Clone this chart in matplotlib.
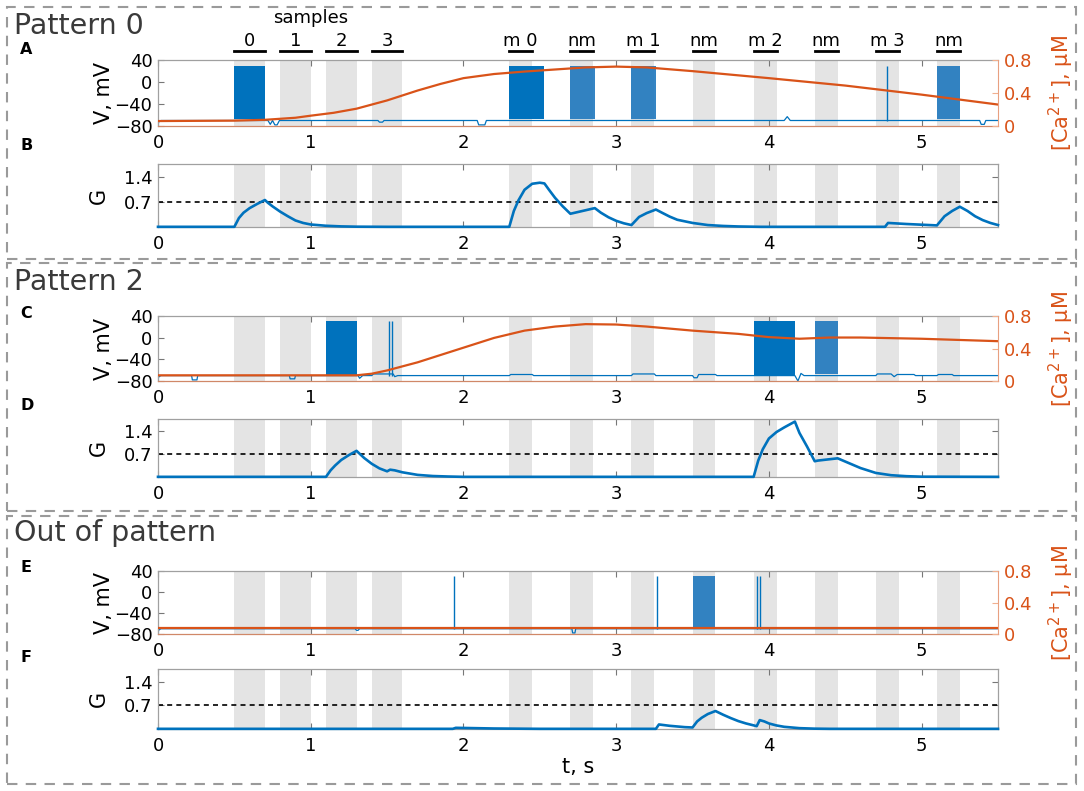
import numpy as np
import matplotlib
matplotlib.use("Agg")
import matplotlib.pyplot as plt
from matplotlib.patches import Rectangle
from matplotlib.transforms import blended_transform_factory

BLUE = '#0072BD'
ORANGE = '#D95319'
SHADE = '#E4E4E4'
SPINE = '#A0A0A0'

# stimulus windows (s)
sample_starts = [0.5, 0.8, 1.1, 1.4]
sample_width = 0.2
sample_labels = ['0', '1', '2', '3']
test_starts = [2.3, 2.7, 3.1, 3.5, 3.9, 4.3, 4.7, 5.1]
test_width = 0.15
test_labels = ['m 0', 'nm', 'm 1', 'nm', 'm 2', 'nm', 'm 3', 'nm']

# ---- Pattern 0 ----
p0_vt = [0.0, 0.006, 0.02, 0.72, 0.735, 0.75, 0.765, 0.78, 0.795, 1.44, 1.45, 1.47, 1.48,
         2.09, 2.10, 2.14, 2.15, 4.10, 4.12, 4.14, 5.38, 5.39, 5.41, 5.42, 5.5]
p0_vv = [-77, -72, -70, -70, -77, -70, -78, -78, -70, -70, -73, -73, -70,
         -70, -78, -78, -70, -70, -63, -70, -70, -77, -77, -70, -70]
p0_dense = [(0.5, 0.7), (2.3, 2.53)]
p0_sparse = [(2.7, 2.86), (3.1, 3.26), (5.1, 5.25)]
p0_spikes = [4.77]
p0_ca_t = [0, 0.5, 0.7, 0.9, 1.0, 1.15, 1.3, 1.5, 1.7, 1.85, 2.0, 2.2, 2.4, 2.6, 2.8, 3.0,
           3.2, 3.5, 4.0, 4.5, 5.0, 5.5]
p0_ca = [0.06, 0.065, 0.075, 0.10, 0.125, 0.16, 0.21, 0.31, 0.43, 0.51, 0.58, 0.63, 0.66,
         0.685, 0.71, 0.72, 0.71, 0.665, 0.58, 0.49, 0.38, 0.26]
p0_g_t = [0, 0.5, 0.53, 0.56, 0.6, 0.65, 0.7, 0.72, 0.75, 0.8, 0.85, 0.9, 0.95, 1.0, 1.1,
          1.2, 1.3, 1.5, 2.3, 2.33, 2.36, 2.4, 2.45, 2.5, 2.53, 2.56, 2.6, 2.65, 2.7, 2.75,
          2.8, 2.86, 2.9, 2.95, 3.0, 3.05, 3.1, 3.15, 3.2, 3.26, 3.3, 3.35, 3.4, 3.5, 3.6,
          3.7, 3.8, 3.95, 4.76, 4.78, 4.9, 5.0, 5.1, 5.15, 5.2, 5.25, 5.3, 5.35, 5.4, 5.45, 5.5]
p0_g = [0, 0, 0.25, 0.4, 0.53, 0.65, 0.76, 0.68, 0.58, 0.43, 0.3, 0.18, 0.11, 0.066, 0.03,
        0.012, 0.004, 0, 0, 0.45, 0.75, 1.05, 1.22, 1.25, 1.23, 1.05, 0.82, 0.58, 0.37, 0.42,
        0.47, 0.53, 0.4, 0.27, 0.17, 0.1, 0.05, 0.28, 0.39, 0.49, 0.4, 0.29, 0.2, 0.11, 0.05,
        0.025, 0.01, 0, 0, 0.11, 0.08, 0.06, 0.04, 0.3, 0.45, 0.57, 0.45, 0.3, 0.19, 0.11, 0.05]

# ---- Pattern 2 ----
p2_vt = [0.0, 0.006, 0.02, 0.22, 0.225, 0.255, 0.26, 0.86, 0.865, 0.895, 0.9, 1.31, 1.32,
         1.34, 1.40, 1.41, 1.5, 1.54, 1.55, 1.57, 2.3, 2.31, 2.45, 2.46, 3.1, 3.11, 3.25, 3.26,
         3.5, 3.51, 3.53, 3.54, 3.65, 3.66, 4.17, 4.19, 4.21, 4.23, 4.7, 4.71, 4.8, 4.82, 4.84,
         4.95, 4.96, 5.1, 5.11, 5.2, 5.21, 5.5]
p2_vv = [-76, -72, -70, -70, -78, -78, -70, -70, -76, -76, -70, -70, -75,
         -70, -70, -67, -67, -67, -72, -70, -70, -68, -68, -70, -70, -67, -67, -70,
         -70, -74, -74, -68, -68, -70, -70, -80, -66, -70, -70, -67, -67, -72, -68,
         -68, -70, -70, -68, -68, -70, -70]
p2_dense = [(1.1, 1.3), (3.9, 4.17)]
p2_sparse = [(4.3, 4.45)]
p2_spikes = [1.51, 1.53]
p2_ca_t = [0, 1.3, 1.4, 1.5, 1.6, 1.7, 1.8, 1.9, 2.0, 2.1, 2.2, 2.4, 2.6, 2.8, 3.0, 3.2,
           3.5, 3.8, 3.9, 4.0, 4.2, 4.4, 4.6, 5.0, 5.5]
p2_ca = [0.07, 0.07, 0.09, 0.13, 0.18, 0.23, 0.29, 0.35, 0.41, 0.47, 0.53, 0.62, 0.67, 0.70,
         0.695, 0.67, 0.62, 0.58, 0.56, 0.54, 0.52, 0.535, 0.535, 0.52, 0.49]
p2_g_t = [0, 1.1, 1.13, 1.16, 1.2, 1.25, 1.3, 1.35, 1.4, 1.45, 1.5, 1.52, 1.55, 1.6, 1.7,
          1.8, 1.9, 2.0, 3.9, 3.93, 3.96, 4.0, 4.05, 4.1, 4.17, 4.2, 4.25, 4.3, 4.32, 4.45,
          4.5, 4.55, 4.6, 4.7, 4.8, 4.9, 5.0, 5.5]
p2_g = [0, 0, 0.2, 0.35, 0.52, 0.67, 0.8, 0.58, 0.4, 0.26, 0.17, 0.22, 0.2, 0.14, 0.06,
        0.025, 0.01, 0, 0, 0.5, 0.85, 1.18, 1.38, 1.52, 1.7, 1.35, 0.93, 0.48, 0.5, 0.57,
        0.47, 0.37, 0.27, 0.12, 0.05, 0.02, 0.005, 0]

# ---- Out of pattern ----
p3_vt = [0.0, 0.006, 0.02, 1.29, 1.30, 1.31, 1.32, 2.71, 2.715, 2.73, 2.735, 5.5]
p3_vv = [-77, -72, -70, -70, -73, -73, -70, -70, -78, -78, -70, -70]
p3_dense = []
p3_sparse = [(3.5, 3.65)]
p3_spikes = [1.94, 3.27, 3.92, 3.94]
p3_ca_t = [0, 5.5]
p3_ca = [0.07, 0.07]
p3_g_t = [0, 1.93, 1.95, 2.2, 2.5, 3.26, 3.28, 3.35, 3.45, 3.5, 3.53, 3.56, 3.6, 3.65, 3.7,
          3.75, 3.8, 3.85, 3.92, 3.94, 3.97, 4.0, 4.05, 4.1, 4.2, 4.3, 4.4, 5.5]
p3_g = [0, 0, 0.03, 0.01, 0, 0, 0.13, 0.09, 0.05, 0.04, 0.22, 0.33, 0.44, 0.53, 0.42, 0.32,
        0.23, 0.16, 0.08, 0.26, 0.22, 0.16, 0.1, 0.06, 0.02, 0.005, 0, 0]

fig = plt.figure(figsize=(10.84, 7.91), dpi=100)
W, H = 1084.0, 791.0


def box(px_top, px_bottom):
    return [158 / W, 1 - px_bottom / H, 840 / W, (px_bottom - px_top) / H]


def shade(ax):
    for s in sample_starts:
        ax.axvspan(s, s + sample_width, color=SHADE, lw=0, zorder=0)
    for s in test_starts:
        ax.axvspan(s, s + test_width, color=SHADE, lw=0, zorder=0)


def style(ax):
    ax.set_xlim(0, 5.5)
    ax.set_xticks([0, 1, 2, 3, 4, 5])
    for sp in ax.spines.values():
        sp.set_color(SPINE)
        sp.set_linewidth(0.9)
    ax.tick_params(axis='x', direction='in', top=True, length=4, color='#777777',
                   labelsize=13, pad=6)
    ax.tick_params(axis='y', direction='in', length=4, color='#777777', labelsize=13, pad=4)


def panel(top_v, bot_v, top_g, bot_g, vt, vv, dense, sparse, spikes, ca_t, ca, g_t, g):
    ax_v = fig.add_axes(box(top_v, bot_v))
    shade(ax_v)
    ax_v.plot(vt, vv, color=BLUE, lw=0.9, zorder=2)
    for s, e in dense:
        ax_v.fill_between([s, e], -68, 30, color=BLUE, lw=0, zorder=2)
    for s, e in sparse:
        ax_v.fill_between([s, e], -67, 30, color='#1F78BE', alpha=0.9, lw=0, zorder=2)
    ax_v.vlines(spikes, -70, 30, color=BLUE, lw=1.0, zorder=2)
    ax_v.set_ylim(-80, 40)
    ax_v.set_yticks([-80, -40, 0, 40])
    style(ax_v)
    ax_v.spines['bottom'].set_color('#D08868')
    ax_v.spines['right'].set_visible(False)
    ax_v.set_ylabel('V, mV', fontsize=15)
    ax_v.yaxis.set_label_coords(-0.052, 0.5)

    ax_c = ax_v.twinx()
    ax_c.plot(ca_t, ca, color=ORANGE, lw=1.6)
    ax_c.set_ylim(0, 0.8)
    ax_c.set_yticks([0, 0.4, 0.8])
    ax_c.set_yticklabels(['0', '0.4', '0.8'])
    for k in ['left', 'top', 'bottom']:
        ax_c.spines[k].set_visible(False)
    ax_c.spines['right'].set_color('#E8A080')
    ax_c.tick_params(axis='y', direction='in', length=4, color='#F0B090',
                     labelcolor=ORANGE, labelsize=13, pad=4)
    ax_c.set_ylabel('[Ca$^{2+}$], μM', color=ORANGE, fontsize=15)
    ax_c.yaxis.set_label_coords(1.058, 0.5)

    ax_g = fig.add_axes(box(top_g, bot_g))
    shade(ax_g)
    ax_g.axhline(0.7, color='k', ls=(0, (3, 2.5)), lw=1.2, zorder=2)
    ax_g.plot(g_t, g, color=BLUE, lw=1.9, zorder=3, clip_on=False)
    ax_g.set_ylim(-0.005, 1.78)
    ax_g.set_yticks([0.7, 1.4])
    style(ax_g)
    ax_g.tick_params(axis='y', right=True)
    ax_g.set_ylabel('G', fontsize=15)
    ax_g.yaxis.set_label_coords(-0.058, 0.5)
    return ax_v, ax_g


ax1v, ax1g = panel(60, 126, 164, 227, p0_vt, p0_vv, p0_dense, p0_sparse, p0_spikes,
                   p0_ca_t, p0_ca, p0_g_t, p0_g)
ax2v, ax2g = panel(316, 381, 419, 477, p2_vt, p2_vv, p2_dense, p2_sparse, p2_spikes,
                   p2_ca_t, p2_ca, p2_g_t, p2_g)
ax3v, ax3g = panel(571, 634, 669, 729, p3_vt, p3_vv, p3_dense, p3_sparse, p3_spikes,
                   p3_ca_t, p3_ca, p3_g_t, p3_g)
ax3g.set_xlabel('t, s', fontsize=15, labelpad=1)

# stimulus labels above top panel
tr = blended_transform_factory(ax1v.transData, ax1v.transAxes)
for s, lab in zip(sample_starts, sample_labels):
    ax1v.plot([s, s + sample_width], [1.13, 1.13], color='k', lw=2, transform=tr, clip_on=False)
    ax1v.text(s + sample_width / 2, 1.15, lab, transform=tr, ha='center', va='bottom', fontsize=13)
for s, lab in zip(test_starts, test_labels):
    ax1v.plot([s, s + test_width], [1.13, 1.13], color='k', lw=2, transform=tr, clip_on=False)
    ax1v.text(s + test_width / 2, 1.15, lab, transform=tr, ha='center', va='bottom', fontsize=13)
ax1v.text(1.0, 1.5, 'samples', transform=tr, ha='center', va='bottom', fontsize=13)

# panel titles and letters
for y, t in [(26, 'Pattern 0'), (282, 'Pattern 2'), (533, 'Out of pattern')]:
    fig.text(14 / W, 1 - y / H, t, fontsize=20.5, color='#3a3a3a', va='center', ha='left')
for y, t in [(50, 'A'), (146, 'B'), (313, 'C'), (405, 'D'), (567, 'E'), (657, 'F')]:
    fig.text(20 / W, 1 - y / H, t, fontsize=11.5, fontweight='bold', va='center', ha='left')

# dashed frames
for top, bot in [(7, 259), (263, 511), (516, 784)]:
    fig.add_artist(Rectangle((7 / W, 1 - bot / H), 1069 / W, (bot - top) / H,
                             transform=fig.transFigure, fill=False, ec='#9a9a9a',
                             lw=1.5, ls=(0, (5, 4))))

fig.savefig('out.png', dpi=100)
